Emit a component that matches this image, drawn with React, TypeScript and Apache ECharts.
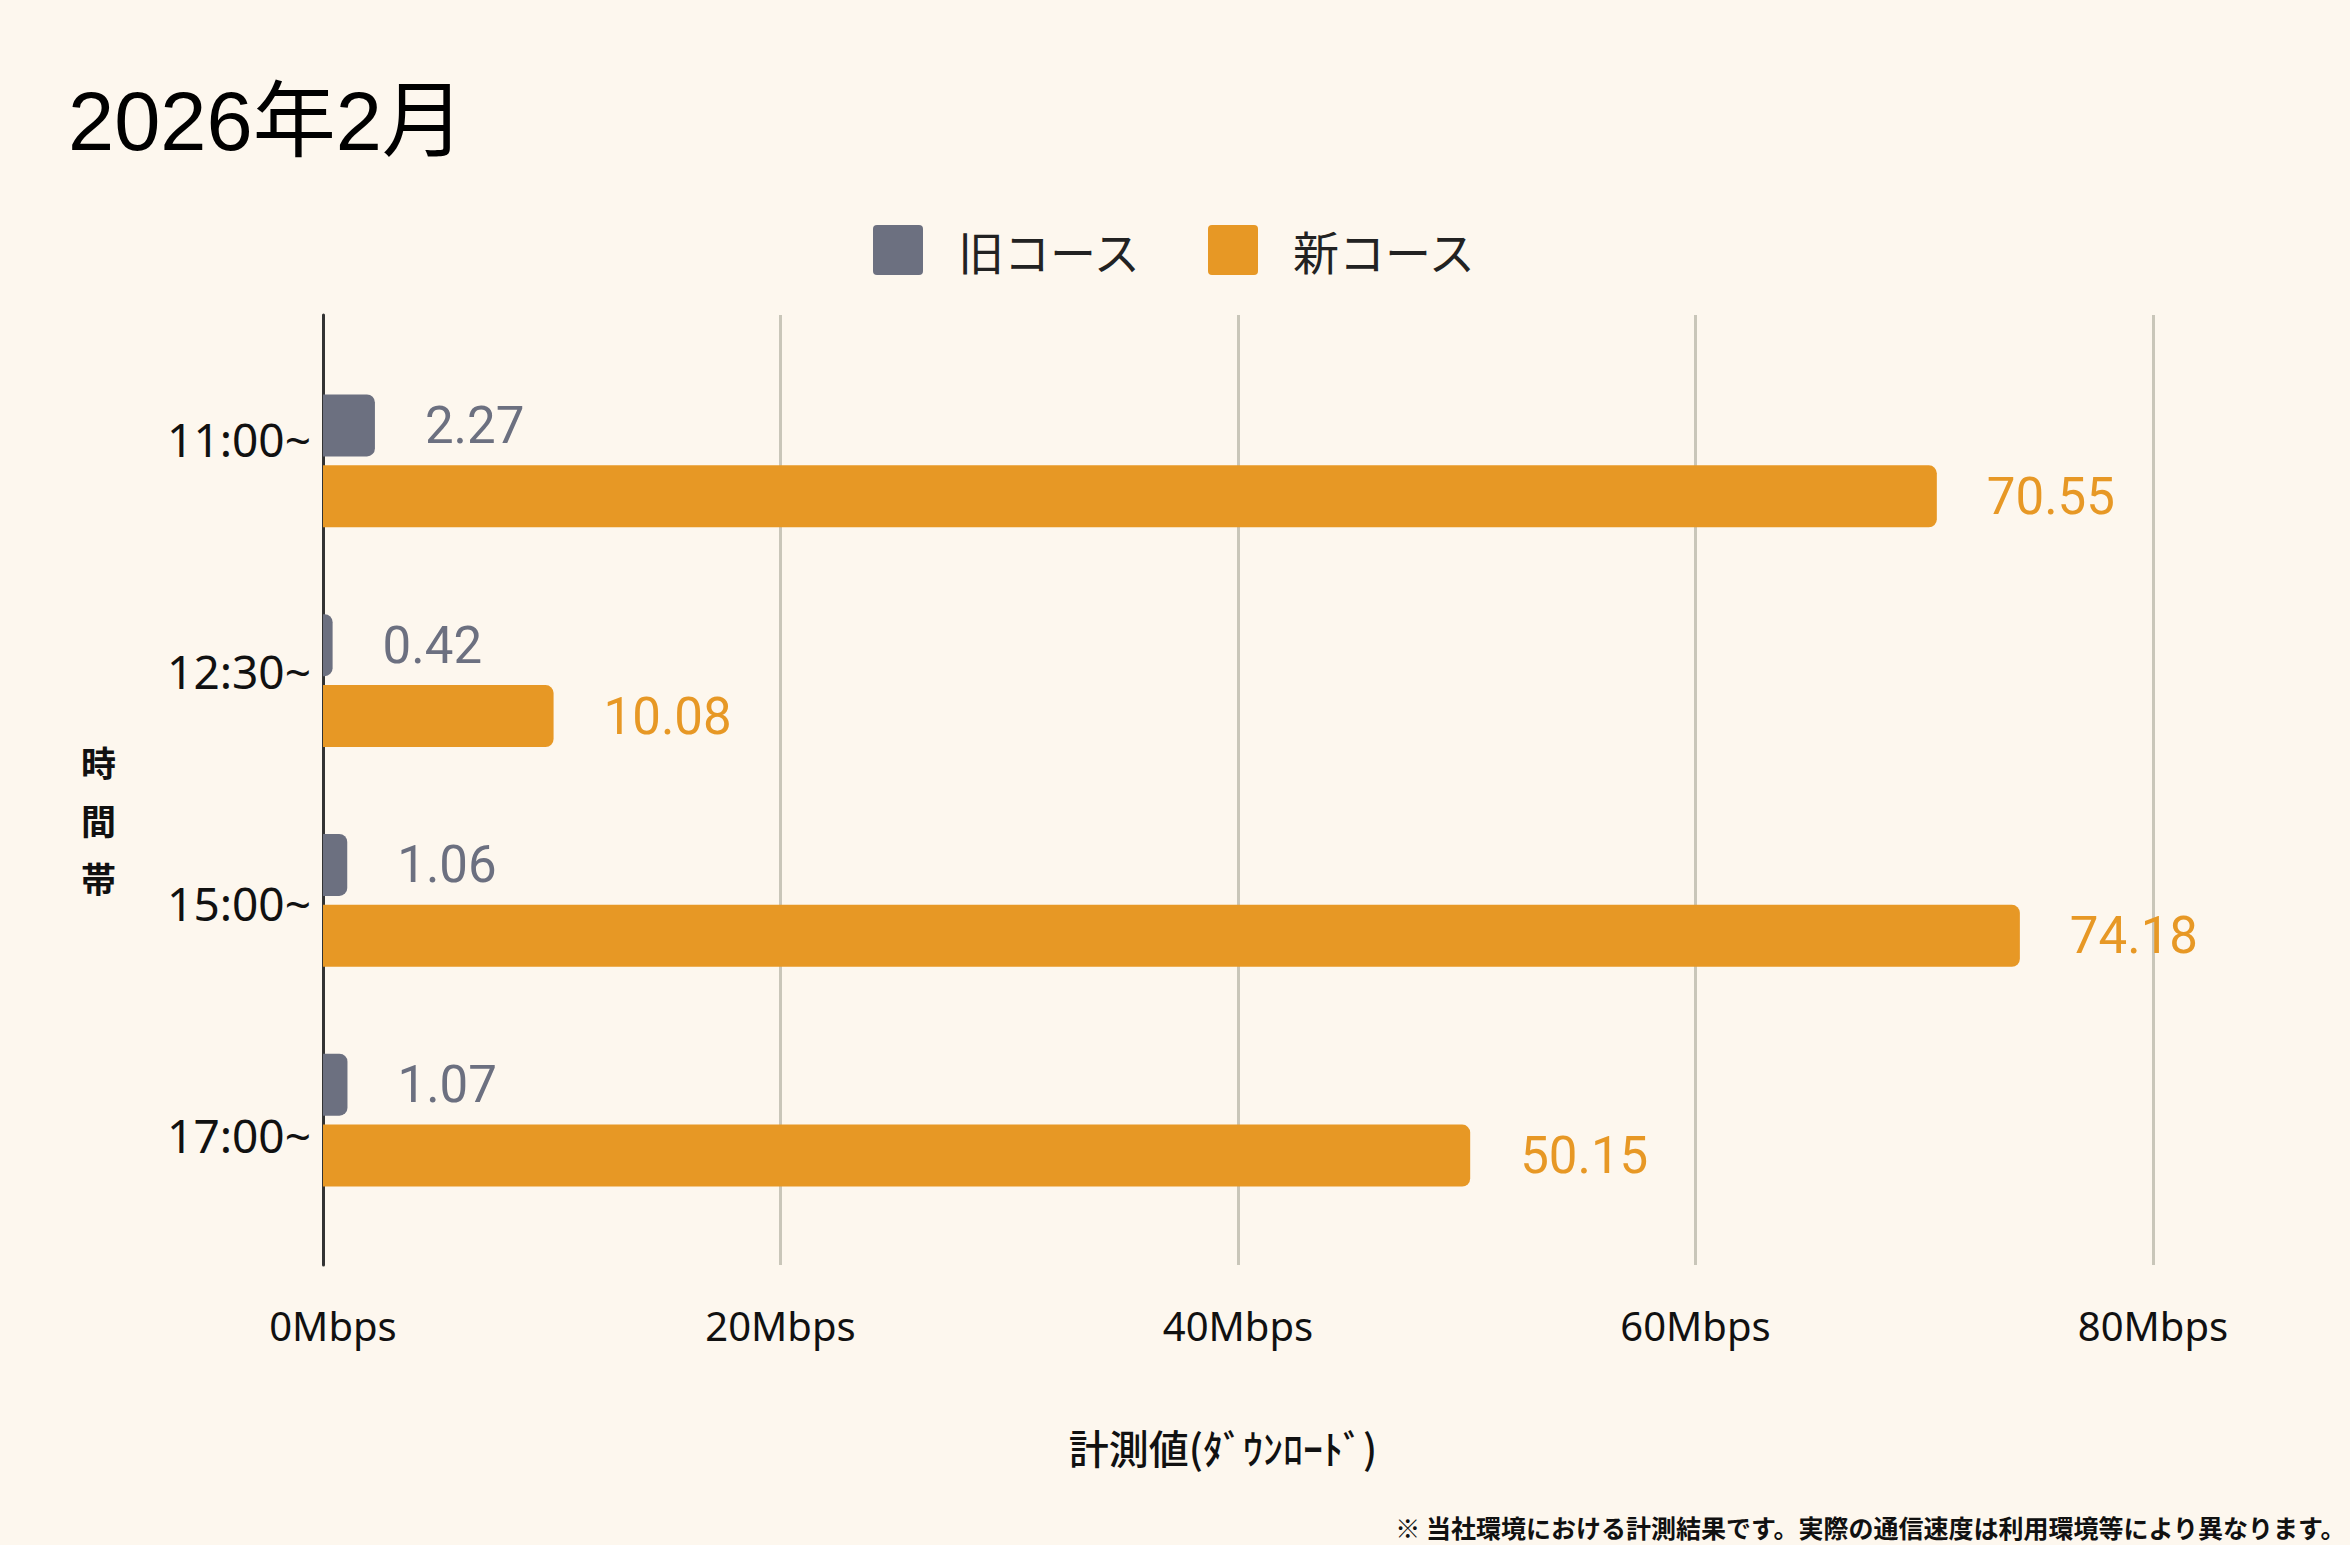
import React, { useEffect, useRef } from "react";
import * as echarts from "echarts";

const titleText = "2026年2月";
const categories = ["11:00~", "12:30~", "15:00~", "17:00~"];
const seriesNames = ["旧コース", "新コース"];
const oldCourse = [2.27, 0.42, 1.06, 1.07];
const newCourse = [70.55, 10.08, 74.18, 50.15];
const xTickValues = [0, 20, 40, 60, 80];
const xTickLabels = ["0Mbps", "20Mbps", "40Mbps", "60Mbps", "80Mbps"];
const yAxisName = "\n時\n間\n帯";
const xAxisName = "計測値(ﾀﾞｳﾝﾛｰﾄﾞ)";
const footnote = "※ 当社環境における計測結果です。実際の通信速度は利用環境等により異なります。";

const GRAY = "#6c7080";
const ORANGE = "#e79825";
const BG = "#fdf7ee";
const LEGEND_ICON = "path://M4,0H46Q50,0 50,4V46Q50,50 46,50H4Q0,50 0,46V4Q0,0 4,0Z";

export default function App() {
  const ref = useRef<HTMLDivElement>(null);
  useEffect(() => {
    document.body.style.margin = "0";
    const chart = echarts.init(ref.current!, null, { renderer: "svg" });
    const side = { left: 323, right: 197 };
    const valueLabel = (color: string) => ({
      show: true,
      position: "right",
      distance: 50,
      fontSize: 51,
      color,
      fontFamily: "Roboto, sans-serif",
      formatter: (p: any) => p.value.toFixed(2),
    });
    const option: any = {
      animation: false,
      backgroundColor: BG,
      title: {
        text: titleText,
        left: 68,
        top: 80,
        padding: 0,
        textStyle: {
          fontSize: 83,
          fontWeight: "normal",
          color: "#000",
          fontFamily: "'Liberation Sans', 'Noto Sans CJK JP', sans-serif",
        },
      },
      legend: {
        data: seriesNames,
        top: 225,
        left: "center",
        padding: 0,
        icon: LEGEND_ICON,
        itemWidth: 50,
        itemHeight: 50,
        itemGap: 66,
        textStyle: {
          fontSize: 46,
          color: "#222",
          padding: [0, 0, 0, 30],
          fontFamily: "'Noto Sans CJK JP', sans-serif",
        },
      },
      graphic: [
        {
          type: "text",
          right: 4,
          bottom: 6,
          style: {
            text: footnote,
            fontSize: 25,
            fontWeight: "bold",
            fill: "#111",
            fontFamily: "'Noto Sans CJK JP', sans-serif",
          },
        },
      ],
      grid: [
        { ...side, top: 315, bottom: 280 },
        { ...side, top: 323, bottom: 294 },
        { ...side, top: 351, bottom: 315 },
      ],
      xAxis: [
        {
          gridIndex: 0,
          type: "value",
          min: 0,
          max: 80,
          interval: 20,
          axisLine: { show: false },
          axisTick: { show: false },
          splitLine: { show: true, lineStyle: { color: "#c9c6b9", width: 3 } },
          axisLabel: {
            fontSize: 40,
            margin: 40,
            color: "#111",
            fontFamily: "'Noto Sans', 'Noto Sans CJK JP', sans-serif",
            formatter: (v: number) => {
              const i = xTickValues.indexOf(v);
              if (i < 0) return "";
              return i === 0 ? "{first|" + xTickLabels[i] + "}" : xTickLabels[i];
            },
            rich: {
              first: {
                fontSize: 40,
                color: "#111",
                padding: [0, 0, 0, 20],
                fontFamily: "'Noto Sans', 'Noto Sans CJK JP', sans-serif",
              },
            },
          },
          name: xAxisName,
          nameLocation: "middle",
          nameGap: 162,
          nameTextStyle: {
            fontSize: 40,
            color: "#111",
            fontWeight: 500,
            padding: [0, 30, 0, 0],
            fontFamily: "'Noto Sans CJK JP', sans-serif",
          },
        },
        { gridIndex: 1, type: "value", min: 0, max: 80, show: false },
        { gridIndex: 2, type: "value", min: 0, max: 80, show: false },
      ],
      yAxis: [
        {
          gridIndex: 0,
          type: "category",
          data: categories,
          inverse: true,
          axisLine: { show: true, lineStyle: { color: "#333", width: 3 } },
          axisTick: { show: false },
          axisLabel: { show: false },
          splitLine: { show: false },
          name: yAxisName,
          nameLocation: "middle",
          nameRotate: 0,
          nameGap: 207,
          nameTextStyle: {
            fontSize: 35,
            lineHeight: 58,
            color: "#111",
            fontWeight: "bold",
            fontFamily: "'Noto Sans CJK JP', sans-serif",
          },
        },
        {
          gridIndex: 1,
          type: "category",
          data: categories,
          inverse: true,
          axisLine: { show: false },
          axisTick: { show: false },
          splitLine: { show: false },
          axisLabel: {
            fontSize: 46,
            margin: 12,
            color: "#111",
            fontFamily: "'Noto Sans', 'Noto Sans CJK JP', sans-serif",
          },
        },
        { gridIndex: 2, type: "category", data: categories, inverse: true, show: false },
      ],
      series: [
        {
          name: seriesNames[0],
          type: "bar",
          xAxisIndex: 2,
          yAxisIndex: 2,
          data: oldCourse,
          barWidth: 62,
          barGap: "14.5%",
          itemStyle: { color: GRAY, borderRadius: [0, 8, 8, 0] },
          label: valueLabel(GRAY),
        },
        {
          name: seriesNames[1],
          type: "bar",
          xAxisIndex: 2,
          yAxisIndex: 2,
          data: newCourse,
          barWidth: 62,
          barGap: "14.5%",
          itemStyle: { color: ORANGE, borderRadius: [0, 8, 8, 0] },
          label: valueLabel(ORANGE),
        },
      ],
    };
    chart.setOption(option);
    return () => chart.dispose();
  }, []);
  return (
    <div
      ref={ref}
      style={{ position: "fixed", left: 0, top: 0, width: 2350, height: 1545 }}
    />
  );
}
